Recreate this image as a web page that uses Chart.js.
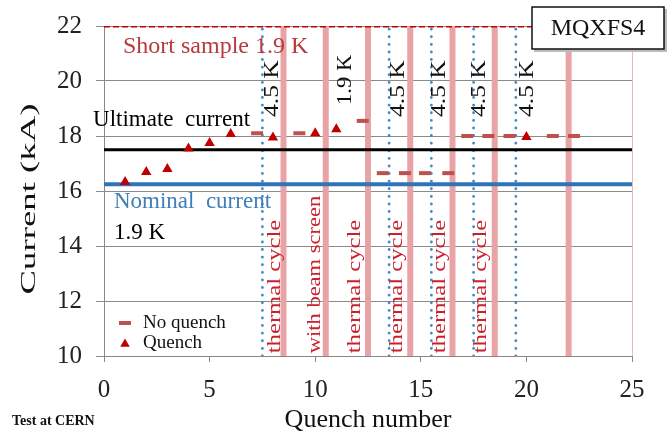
<!DOCTYPE html>
<html><head><meta charset="utf-8">
<script src="https://cdn.jsdelivr.net/npm/chart.js@4.4.0/dist/chart.umd.min.js"></script>
<style>html,body{margin:0;padding:0;background:#fff;}#wrap{width:672px;height:441px;position:relative;}</style>
</head><body><div id="wrap"><canvas id="c" width="672" height="441"></canvas></div>
<script>
// ---- data ----
const quenchX = [1, 2, 3, 4, 5, 6, 8, 10, 11, 20];
const quenchY = [16.33, 16.69, 16.8, 17.55, 17.75, 18.07, 17.95, 18.1, 18.25, 17.96];
const noQuenchX = [7.25, 9.25, 12.25, 13.2, 14.25, 15.2, 16.3, 17.2, 18.2, 19.2, 21.25, 22.25];
const noQuenchY = [18.1, 18.1, 18.55, 16.65, 16.65, 16.65, 16.65, 18.0, 18.0, 18.0, 18.0, 18.0];
const ultimateCurrent = 17.5;
const nominalCurrent = 16.25;
const shortSample = 22;
const thermalCycleX = [8.5, 10.5, 12.5, 14.5, 16.5, 18.5, 22];
const warmTestX = [7.5, 13.5, 15.5, 17.5, 19.5];
const xTicks = [0, 5, 10, 15, 20, 25];
const yTicks = [10, 12, 14, 16, 18, 20, 22];
const thermalLabels = ['thermal cycle', 'with beam screen', 'thermal cycle', 'thermal cycle', 'thermal cycle', 'thermal cycle'];
const thermalLabelX = [8.1, 10.0, 11.9, 13.9, 15.9, 17.85];
const warmLabelX = [8.0, 13.95, 15.9, 17.8, 20.05];

const SERIF = "'Liberation Serif', 'Times New Roman', serif";
const xMin = xTicks[0], xMax = xTicks[xTicks.length - 1];
const yMin = yTicks[0], yMax = yTicks[yTicks.length - 1];

const datasets = [];
thermalCycleX.forEach(x => datasets.push({
  data: [{x: x, y: yMin}, {x: x, y: yMax}], showLine: true, borderColor: '#E8A3A6',
  borderWidth: 6, borderCapStyle: 'butt', pointRadius: 0, order: 10
}));
warmTestX.forEach(x => datasets.push({
  data: [{x: x, y: yMin}, {x: x, y: yMax}], showLine: true, borderColor: '#3E8CC4',
  borderWidth: 2.8, borderDash: [0.1, 7.5], borderCapStyle: 'round', pointRadius: 0, order: 9
}));
datasets.push({data: [{x: xMin, y: ultimateCurrent}, {x: xMax, y: ultimateCurrent}], showLine: true,
  borderColor: '#000', borderWidth: 3, pointRadius: 0, order: 5});
datasets.push({data: [{x: xMin, y: nominalCurrent}, {x: xMax, y: nominalCurrent}], showLine: true,
  borderColor: '#2E75B6', borderWidth: 4, pointRadius: 0, order: 5});
datasets.push({data: [{x: xMin, y: shortSample}, {x: xMax, y: shortSample}], showLine: true,
  borderColor: '#C00000', borderWidth: 3, borderDash: [6, 3], pointRadius: 0, order: 4});
const noQuenchDs = {data: noQuenchX.map((x, i) => ({x: x, y: noQuenchY[i]})), showLine: false,
  pointStyle: 'line', pointRadius: 6, borderColor: '#C0504D', borderWidth: 4, order: 2};
const quenchDs = {data: quenchX.map((x, i) => ({x: x, y: quenchY[i]})), showLine: false,
  pointStyle: 'triangle', pointRadius: 6, backgroundColor: '#C00000', borderColor: '#C00000', borderWidth: 0, order: 1};
datasets.push(noQuenchDs, quenchDs);

function rotText(ctx, txt, x, y, size, stretch, color) {
  ctx.save();
  ctx.translate(x, y);
  ctx.rotate(-Math.PI / 2);
  ctx.scale(stretch, 1);
  ctx.font = size + 'px ' + SERIF;
  ctx.fillStyle = color;
  ctx.textAlign = 'left';
  ctx.textBaseline = 'middle';
  ctx.fillText(txt, 0, 0);
  ctx.restore();
}
function hText(ctx, txt, x, y, size, color, weight) {
  ctx.save();
  ctx.font = (weight || '') + ' ' + size + 'px ' + SERIF;
  ctx.fillStyle = color;
  ctx.textAlign = 'left';
  ctx.textBaseline = 'middle';
  ctx.fillText(txt, x, y);
  ctx.restore();
}

const annot = {
  id: 'annot',
  afterDatasetsDraw(chart) {
    const ctx = chart.ctx, xs = chart.scales.x, ys = chart.scales.y, a = chart.chartArea;
    // right border of plot area
    ctx.save();
    ctx.strokeStyle = '#E6B8B8'; ctx.lineWidth = 1;
    ctx.beginPath(); ctx.moveTo(a.right + 0.5, a.top); ctx.lineTo(a.right + 0.5, a.bottom); ctx.stroke();
    ctx.restore();
    // horizontal labels
    hText(ctx, 'Short sample 1.9 K', xs.getPixelForValue(0.9), ys.getPixelForValue(21.24), 24, '#B83A3C');
    hText(ctx, 'Ultimate  current', xs.getPixelForValue(-0.52), ys.getPixelForValue(18.58), 23, '#000');
    hText(ctx, 'Nominal  current', xs.getPixelForValue(0.47), ys.getPixelForValue(15.6), 23, '#3F7FB8');
    hText(ctx, '1.9 K', xs.getPixelForValue(0.47), ys.getPixelForValue(14.47), 23, '#000');
    // rotated labels
    warmLabelX.forEach(x => rotText(ctx, '4.5 K', xs.getPixelForValue(x), ys.getPixelForValue(18.69), 20, 1.28, '#111'));
    rotText(ctx, '1.9 K', xs.getPixelForValue(11.46), ys.getPixelForValue(19.13), 20, 1.13, '#111');
    thermalLabels.forEach((t, i) => rotText(ctx, t, xs.getPixelForValue(thermalLabelX[i]), ys.getPixelForValue(10.1),
      18, i === 1 ? 1.25 : 1.37, '#C8202C'));
    // legend
    const lx = a.left + 21, ly1 = a.bottom - 33, ly2 = a.bottom - 13;
    ctx.save();
    ctx.strokeStyle = noQuenchDs.borderColor; ctx.lineWidth = noQuenchDs.borderWidth;
    ctx.beginPath(); ctx.moveTo(lx - 6, ly1); ctx.lineTo(lx + 6, ly1); ctx.stroke();
    ctx.fillStyle = quenchDs.backgroundColor;
    ctx.beginPath();
    const r = 5.5;
    ctx.moveTo(lx, ly2 + 1 - r);
    ctx.lineTo(lx + r * 0.866, ly2 + 1 + r / 2);
    ctx.lineTo(lx - r * 0.866, ly2 + 1 + r / 2);
    ctx.closePath(); ctx.fill();
    ctx.restore();
    hText(ctx, 'No quench', lx + 18, ly1, 19, '#111');
    hText(ctx, 'Quench', lx + 18, ly2, 19, '#111');
  },
  afterDraw(chart) {
    const ctx = chart.ctx, a = chart.chartArea;
    // MQXFS4 box
    ctx.save();
    ctx.fillStyle = '#bbb';
    ctx.fillRect(534, 9, 133, 43);
    ctx.fillStyle = '#fff';
    ctx.fillRect(532, 7, 132, 42);
    ctx.strokeStyle = '#111'; ctx.lineWidth = 1.5;
    ctx.strokeRect(532, 7, 132, 42);
    ctx.font = '24px ' + SERIF; ctx.fillStyle = '#111';
    ctx.textAlign = 'center'; ctx.textBaseline = 'middle';
    ctx.fillText('MQXFS4', 598, 29);
    ctx.restore();
    // axis titles
    ctx.save();
    ctx.font = '26px ' + SERIF; ctx.fillStyle = '#111';
    ctx.textAlign = 'center'; ctx.textBaseline = 'middle';
    ctx.fillText('Quench number', (a.left + a.right) / 2, 420);
    ctx.restore();
    ctx.save();
    ctx.translate(29, 199); ctx.rotate(-Math.PI / 2); ctx.scale(1.75, 1);
    ctx.font = '21px ' + SERIF; ctx.fillStyle = '#111';
    ctx.textAlign = 'center'; ctx.textBaseline = 'middle';
    ctx.fillText('Current (kA)', 0, 0);
    ctx.restore();
    hText(ctx, 'Test at CERN', 12, 421, 14, '#111', 'bold');
  }
};

function zeroPad(scale) {
  scale.paddingLeft = 0; scale.paddingRight = 0; scale.paddingTop = 0; scale.paddingBottom = 0;
}

new Chart(document.getElementById('c'), {
  type: 'scatter',
  data: {datasets: datasets},
  options: {
    responsive: false, animation: false, devicePixelRatio: 1,
    layout: {padding: {top: 26, right: 40, bottom: 0, left: 0}},
    plugins: {legend: {display: false}, tooltip: {enabled: false}},
    scales: {
      x: {
        type: 'linear', min: xMin, max: xMax,
        afterBuildTicks: s => { s.ticks = xTicks.map(v => ({value: v})); },
        afterFit: s => { s.height = 85; zeroPad(s); },
        ticks: {font: {family: SERIF, size: 25}, color: '#222', padding: 13},
        grid: {drawOnChartArea: false, drawTicks: true, tickLength: 6, color: '#888'},
        border: {color: '#888', width: 1}
      },
      y: {
        type: 'linear', min: yMin, max: yMax,
        afterBuildTicks: s => { s.ticks = yTicks.map(v => ({value: v})); },
        afterFit: s => { s.width = 104; zeroPad(s); },
        ticks: {font: {family: SERIF, size: 25}, color: '#222', padding: 14},
        grid: {color: '#8a8a8a', lineWidth: 1, tickLength: 8},
        border: {color: '#888', width: 1}
      }
    }
  },
  plugins: [annot]
});
</script>
</body></html>
